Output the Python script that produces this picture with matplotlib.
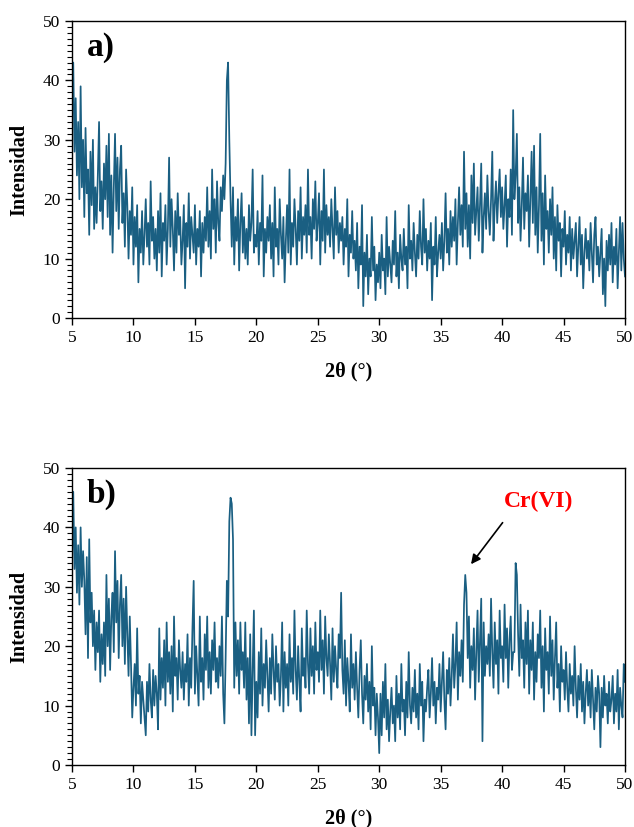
import matplotlib
matplotlib.use("Agg")
import matplotlib.pyplot as plt
import numpy as np
from matplotlib.ticker import MultipleLocator

plt.rcParams['font.family'] = ['Liberation Serif', 'DejaVu Serif']

# 2theta from 5 to 50, step 0.1
two_theta = np.round(np.arange(5.0, 50.0001, 0.1), 1)

# panel a) intensities, one row per degree
int_a = [
    36, 43, 28, 37, 24, 33, 20, 39, 22, 30,
    17, 32, 21, 25, 14, 28, 19, 30, 15, 22,
    16, 24, 33, 18, 23, 15, 26, 20, 29, 17,
    31, 14, 24, 11, 22, 31, 18, 27, 15, 25,
    29, 16, 21, 12, 25, 19, 10, 18, 14, 22,
    9, 17, 12, 19, 6, 15, 11, 18, 9, 14,
    20, 12, 16, 9, 23, 13, 17, 10, 15, 8,
    18, 11, 21, 7, 16, 13, 19, 9, 15, 27,
    12, 20, 15, 8, 18, 11, 21, 14, 17, 9,
    13, 19, 5, 16, 12, 21, 10, 17, 14, 11,
    19, 9, 15, 12, 18, 7, 16, 11, 17, 13,
    22, 12, 18, 10, 25, 15, 20, 11, 23, 16,
    13, 22, 18, 24, 20, 26, 40, 43, 30, 20,
    12, 22, 9, 17, 13, 20, 8, 16, 21, 11,
    17, 10, 15, 9, 19, 13, 16, 25, 11, 14,
    12, 18, 9, 16, 13, 24, 7, 15, 11, 17,
    13, 19, 10, 16, 7, 22, 12, 15, 9, 20,
    14, 10, 17, 6, 13, 19, 11, 25, 9, 16,
    12, 20, 15, 9, 18, 13, 22, 10, 17, 14,
    19, 11, 25, 14, 17, 10, 20, 15, 23, 13,
    16, 21, 9, 18, 13, 25, 11, 19, 14, 17,
    12, 20, 15, 10, 22, 14, 18, 11, 16, 13,
    17, 9, 15, 12, 20, 7, 14, 11, 18, 10,
    13, 8, 16, 5, 12, 9, 19, 2, 11, 7,
    14, 4, 10, 7, 17, 8, 12, 3, 9, 6,
    11, 5, 14, 8, 10, 4, 17, 7, 12, 9,
    6, 13, 9, 18, 7, 11, 5, 14, 10, 8,
    15, 9, 12, 5, 19, 10, 13, 8, 16, 11,
    7, 14, 10, 18, 12, 9, 20, 11, 15, 8,
    13, 10, 16, 3, 12, 9, 17, 7, 11, 14,
    10, 16, 8, 13, 21, 11, 15, 9, 18, 12,
    17, 13, 20, 9, 16, 22, 14, 19, 12, 28,
    15, 21, 12, 19, 10, 24, 16, 26, 14, 18,
    22, 13, 19, 26, 11, 17, 21, 15, 24, 18,
    14, 20, 28, 13, 19, 23, 16, 21, 25, 17,
    22, 15, 19, 24, 12, 20, 17, 25, 14, 35,
    20, 24, 31, 16, 22, 13, 19, 27, 15, 21,
    18, 24, 12, 20, 28, 16, 29, 14, 22, 11,
    19, 31, 13, 21, 9, 24, 15, 18, 11, 20,
    14, 22, 10, 17, 8, 19, 13, 16, 7, 15,
    12, 18, 9, 14, 11, 17, 8, 15, 10, 13,
    16, 7, 12, 17, 9, 14, 5, 11, 15, 10,
    13, 8, 16, 11, 6, 14, 17, 9, 12, 7,
    11, 15, 4, 10, 2, 13, 8, 14, 9, 16,
    6, 12, 9, 15, 5, 11, 17, 8, 16, 10,
    7,
]

# panel b) intensities
int_b = [
    34, 46, 33, 40, 29, 37, 27, 40, 30, 36,
    31, 22, 35, 18, 38, 24, 29, 20, 26, 16,
    24, 19, 26, 14, 22, 17, 24, 15, 32, 20,
    28, 16, 25, 29, 19, 36, 24, 31, 18, 27,
    32, 20, 28, 17, 30, 22, 15, 25, 17, 8,
    13, 17, 10, 23, 12, 15, 7, 14, 11, 8,
    5, 14, 9, 17, 11, 8, 16, 10, 15, 12,
    6, 23, 11, 18, 13, 21, 10, 24, 14, 19,
    12, 20, 9, 25, 15, 18, 11, 21, 16, 13,
    19, 11, 17, 14, 22, 10, 18, 13, 23, 31,
    12, 20, 15, 10, 25, 14, 18, 11, 22, 16,
    25, 13, 19, 12, 21, 16, 24, 14, 18, 13,
    20, 15, 25, 12, 7, 18, 31, 25, 41, 45,
    44, 38, 13, 24, 15, 21, 12, 24, 16, 19,
    13, 24, 11, 18, 7, 22, 5, 16, 26, 5,
    14, 8, 19, 12, 23, 10, 17, 13, 21, 15,
    9, 18, 12, 22, 16, 11, 20, 14, 17, 10,
    15, 24, 9, 19, 13, 17, 10, 22, 14, 18,
    12, 26, 16, 11, 20, 14, 9, 23, 15, 18,
    13, 26, 17, 12, 23, 15, 20, 12, 24, 16,
    19, 14, 26, 16, 21, 12, 25, 18, 15, 22,
    17, 11, 23, 14, 20, 16, 13, 22, 18, 29,
    16, 12, 21, 10, 18, 14, 9, 22, 13, 17,
    11, 19, 13, 8, 16, 21, 12, 7, 15, 11,
    17, 9, 14, 6, 20, 10, 13, 5, 12, 8,
    2, 12, 5, 14, 8, 17, 6, 11, 4, 9,
    13, 7, 10, 4, 15, 8, 12, 6, 17, 9,
    11, 5, 14, 8, 19, 10, 7, 13, 9, 16,
    8, 12, 6, 17, 10, 14, 4, 11, 9, 13,
    16, 8, 12, 18, 10, 14, 7, 13, 11, 17,
    9, 14, 19, 11, 6, 16, 12, 18, 10, 15,
    22, 13, 17, 24, 11, 19, 15, 21, 14, 27,
    32, 29, 18, 25, 13, 20, 16, 23, 11, 19,
    26, 14, 21, 28, 4, 24, 15, 20, 17, 22,
    15, 28, 19, 13, 24, 17, 21, 12, 26, 18,
    20, 14, 27, 18, 23, 13, 21, 25, 16, 19,
    19, 34, 32, 22, 15, 27, 18, 21, 13, 24,
    17, 26, 12, 21, 16, 24, 11, 19, 14, 22,
    18, 26, 13, 20, 9, 23, 16, 19, 12, 25,
    15, 21, 11, 18, 24, 13, 17, 9, 20, 14,
    16, 11, 19, 13, 9, 17, 12, 15, 10, 20,
    13, 8, 15, 11, 17, 9, 14, 7, 12, 16,
    10, 14, 8, 16, 11, 6, 13, 9, 15, 12,
    3, 13, 8, 15, 10, 12, 7, 14, 9, 11,
    15, 7, 12, 9, 16, 6, 13, 10, 8, 17,
    14,
]

line_color = '#1a5f82'

fig = plt.figure(figsize=(6.34, 8.27), dpi=100)
ax_a = fig.add_axes([0.1136, 0.6155, 0.8722, 0.3591])
ax_b = fig.add_axes([0.1136, 0.0750, 0.8722, 0.3591])

for ax, y, tag in [(ax_a, int_a, 'a)'), (ax_b, int_b, 'b)')]:
    ax.plot(two_theta, y, color=line_color, lw=1.25)
    ax.set_xlim(5, 50)
    ax.set_ylim(0, 50)
    ax.xaxis.set_major_locator(MultipleLocator(5))
    ax.yaxis.set_major_locator(MultipleLocator(10))
    ax.yaxis.set_minor_locator(MultipleLocator(1))
    ax.tick_params(axis='both', which='major', direction='out', length=5,
                   width=1, labelsize=12.5, colors='black')
    ax.tick_params(axis='y', which='minor', direction='out', length=3.5, width=0.8)
    for s in ax.spines.values():
        s.set_linewidth(1)
    ax.set_xlabel('2θ (°)', fontsize=14.5, fontweight='bold', labelpad=11)
    ax.set_ylabel('Intensidad', fontsize=14.5, fontweight='bold', labelpad=10)
    ax.text(0.027, 0.912, tag, transform=ax.transAxes, fontsize=24,
            fontweight='bold', va='center', ha='left')

ax_b.text(42.97, 44.3, 'Cr(VI)', color='red', fontsize=17, fontweight='bold',
          ha='center', va='center')
ax_b.annotate('', xy=(37.47, 33.8), xytext=(40.04, 40.8),
              arrowprops=dict(arrowstyle='-|>', color='black', lw=1.2,
                              mutation_scale=14, shrinkA=0, shrinkB=0))

fig.savefig('out.png', dpi=100)
